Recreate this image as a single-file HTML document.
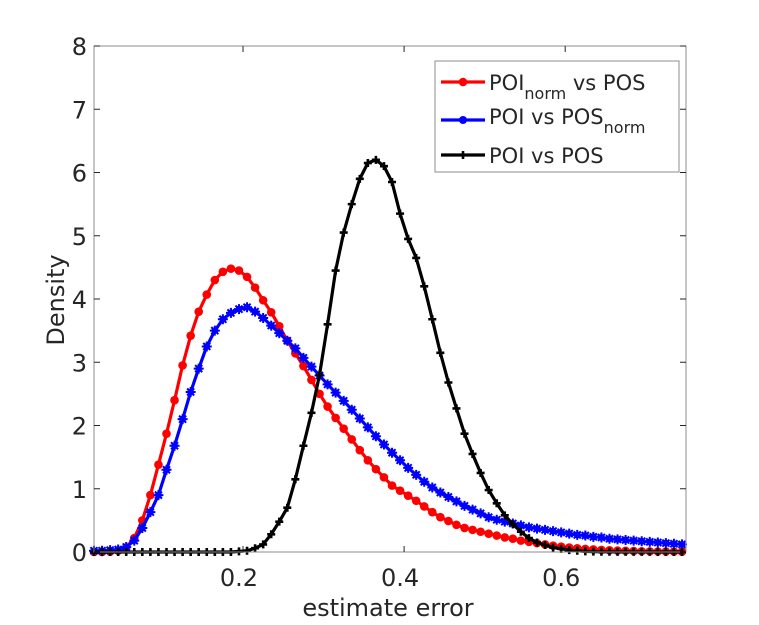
<!DOCTYPE html>
<html><head><meta charset="utf-8"><style>
body{margin:0;background:#fff;}
svg text{font-family:"DejaVu Sans","Liberation Sans",sans-serif;fill:#262626;}
</style></head><body>
<svg id="chart" width="759" height="625" xmlns="http://www.w3.org/2000/svg" style="position:absolute;left:0;top:0">
<rect width="759" height="625" fill="#fff"/>
<g id="marks"></g>
<g id="axes"></g>
</svg>
<script>
const xStart = 0.015, xStep = 0.01;
const redValues = [0,0,0.005,0.02,0.07,0.22,0.5,0.9,1.38,1.87,2.4,2.95,3.42,3.8,4.07,4.3,4.43,4.48,4.45,4.35,4.18,3.98,3.79,3.57,3.34,3.14,2.94,2.72,2.5,2.3,2.12,1.95,1.78,1.61,1.45,1.31,1.18,1.05,0.97,0.89,0.81,0.72,0.63,0.55,0.49,0.43,0.38,0.35,0.32,0.29,0.26,0.23,0.21,0.18,0.16,0.14,0.12,0.1,0.085,0.07,0.058,0.048,0.04,0.033,0.027,0.022,0.018,0.015,0.012,0.01,0.008,0.007,0.006,0.005];
const blueValues = [0.02,0.02,0.03,0.04,0.08,0.18,0.38,0.63,0.9,1.3,1.68,2.1,2.53,2.9,3.25,3.5,3.68,3.78,3.84,3.87,3.8,3.7,3.58,3.46,3.34,3.22,3.07,2.93,2.79,2.65,2.52,2.39,2.25,2.11,1.97,1.83,1.7,1.57,1.45,1.33,1.22,1.11,1.02,0.94,0.87,0.8,0.73,0.67,0.61,0.55,0.51,0.48,0.45,0.42,0.39,0.37,0.35,0.33,0.31,0.29,0.27,0.26,0.24,0.23,0.21,0.2,0.19,0.18,0.17,0.16,0.15,0.14,0.13,0.12];
const blackValues = [0,0,0,0,0,0,0,0,0,0,0,0,0,0,0,0,0,0,0.01,0.02,0.06,0.12,0.28,0.48,0.7,1.15,1.68,2.2,2.8,3.6,4.45,5.05,5.5,5.9,6.15,6.2,6.1,5.85,5.35,4.95,4.65,4.2,3.68,3.15,2.68,2.27,1.87,1.55,1.25,0.98,0.77,0.58,0.44,0.32,0.22,0.15,0.11,0.07,0.05,0.03,0.02,0.01,0.005,0.004,0.003,0.002,0.002,0.001,0.001,0.001,0,0,0,0];
const xTicks = [0.2,0.4,0.6];
const xTickLabels = ["0.2","0.4","0.6"];
const yTicks = [0,1,2,3,4,5,6,7,8];
const yTickLabels = ["0","1","2","3","4","5","6","7","8"];

const L=94,R=686,T=46,B=552,xMin=0.015,xMax=0.75,yMin=0,yMax=8;
const X=v=>L+(v-xMin)/(xMax-xMin)*(R-L);
const Y=v=>B-(v-yMin)/(yMax-yMin)*(B-T);
const NS="http://www.w3.org/2000/svg";
function mk(tag,attrs,parent){const e=document.createElementNS(NS,tag);for(const k in attrs)e.setAttribute(k,attrs[k]);parent.appendChild(e);return e;}
const marks=document.getElementById('marks'), axes=document.getElementById('axes');

function marker(type,cx,cy,color,g){
  if(type==='circle'){mk('circle',{cx,cy,r:4.3,fill:color},g);}
  else if(type==='star'){
    mk('circle',{cx,cy,r:3.4,fill:color},g);
    let d='';for(let a=0;a<4;a++){const t=a*Math.PI/4,dx=5*Math.cos(t),dy=5*Math.sin(t);d+=`M${cx-dx},${cy-dy}L${cx+dx},${cy+dy}`;}
    mk('path',{d,stroke:color,'stroke-width':2},g);
  } else {
    mk('path',{d:`M${cx-4},${cy}H${cx+4}M${cx},${cy-4}V${cy+4}`,stroke:color,'stroke-width':2.6},g);
  }
}
function series(vals,color,type,name){
  const g=mk('g',{},marks);
  
  
  const pts=vals.map((v,i)=>X(xStart+i*xStep)+','+Y(v)).join(' ');
  mk('polyline',{points:pts,fill:'none',stroke:color,'stroke-width':3.2,'stroke-linejoin':'round'},g);
  vals.forEach((v,i)=>marker(type,X(xStart+i*xStep),Y(v),color,g));
}
series(redValues,'#ff0000','circle','series-poi-norm-vs-pos');
series(blueValues,'#0000ff','star','series-poi-vs-pos-norm');
series(blackValues,'#000000','plus','series-poi-vs-pos');

const box=mk('rect',{x:L,y:T,width:R-L,height:B-T,fill:'none',stroke:'#8c8c8c','stroke-width':1},axes);


xTicks.forEach((t,i)=>{
  mk('path',{d:`M${X(t)},${B}V${B-6}M${X(t)},${T}V${T+6}`,stroke:'#262626','stroke-width':1},axes);
  const tx=mk('text',{x:X(t)-4,y:B+34,'text-anchor':'middle','font-size':24},axes);
  tx.textContent=xTickLabels[i];
  
  
});
yTicks.forEach((t,i)=>{
  mk('path',{d:`M${L},${Y(t)}H${L+6}M${R},${Y(t)}H${R-6}`,stroke:'#262626','stroke-width':1},axes);
  const tx=mk('text',{x:L-7,y:Y(t)+9,'text-anchor':'end','font-size':24},axes);
  tx.textContent=yTickLabels[i];
  
  
});
</script>
<svg style="position:absolute;left:0;top:0" width="759" height="625" xmlns="http://www.w3.org/2000/svg">
<text x="388" y="616" text-anchor="middle" font-size="24">estimate error</text>
<text transform="translate(64,300) rotate(-90)" text-anchor="middle" font-size="24">Density</text>
<g>
<rect x="435" y="61" width="244" height="111" fill="#fff" stroke="#8c8c8c" stroke-width="1"/>
<g>
<line x1="441" y1="82" x2="485" y2="82" stroke="#ff0000" stroke-width="3.2"/><circle cx="463" cy="82" r="4.3" fill="#ff0000"/>
<text x="489" y="90" font-size="21">POI<tspan font-size="16" dy="9">norm</tspan><tspan dy="-9"> vs POS</tspan></text>
</g>
<g>
<line x1="441" y1="120" x2="485" y2="120" stroke="#0000ff" stroke-width="3.2"/><circle cx="463" cy="120" r="4" fill="#0000ff"/>
<text x="489" y="124" font-size="21">POI vs POS<tspan font-size="16" dy="9">norm</tspan></text>
</g>
<g>
<line x1="441" y1="155" x2="485" y2="155" stroke="#000" stroke-width="3.2"/><path d="M459,155H467M463,151V159" stroke="#000" stroke-width="2.6"/>
<text x="489" y="163" font-size="21">POI vs POS</text>
</g>
</g>
</svg>
</body></html>
